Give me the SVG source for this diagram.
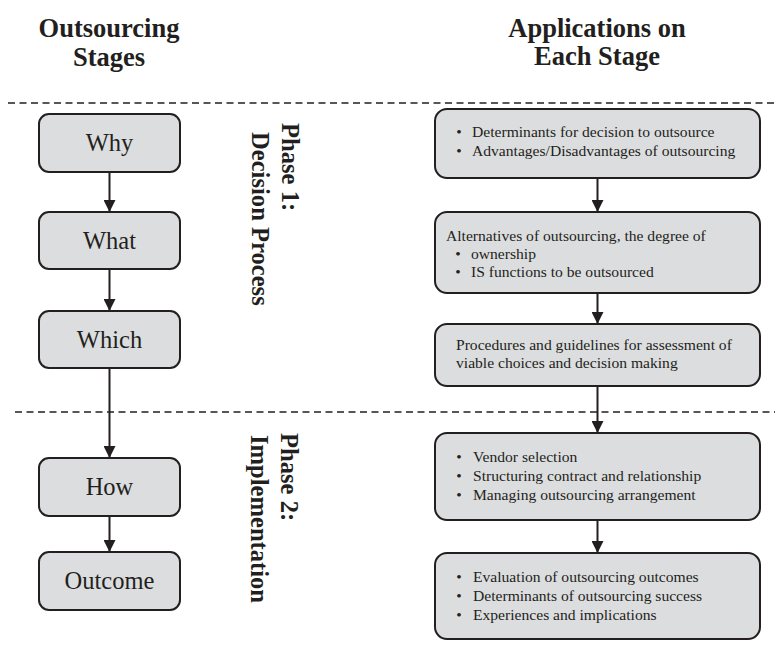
<svg xmlns="http://www.w3.org/2000/svg" width="775" height="648" viewBox="0 0 775 648">
<defs>
<marker id="arr" markerWidth="12" markerHeight="12" viewBox="0 0 12 12" refX="12" refY="6" orient="auto" markerUnits="userSpaceOnUse">
<path d="M0,0 L12,6 L0,12 Z" fill="#231f20"/>
</marker>
<style>
.box{fill:#dcdddf;stroke:#231f20;stroke-width:2}
.stage{font-family:"Liberation Serif",serif;font-size:24.5px;fill:#231f20;text-anchor:middle}
.title{font-family:"Liberation Serif",serif;font-size:26.5px;font-weight:bold;fill:#231f20;text-anchor:middle}
.phase{font-family:"Liberation Serif",serif;font-size:24.6px;font-weight:bold;fill:#231f20}
.app{font-family:"Liberation Serif",serif;font-size:15.6px;fill:#231f20}
.dash{stroke:#231f20;stroke-width:1.3;stroke-dasharray:7 4.5;fill:none}
.conn{stroke:#231f20;stroke-width:2;fill:none;marker-end:url(#arr)}
</style>
</defs>
<rect width="775" height="648" fill="#ffffff"/>

<g id="titles">
<text class="title" x="109" y="37">Outsourcing</text>
<text class="title" x="109" y="66">Stages</text>
<text class="title" x="597" y="37">Applications on</text>
<text class="title" x="597" y="65">Each Stage</text>
</g>

<g id="dividers">
<line class="dash" x1="8" y1="103" x2="775" y2="103"/>
<line class="dash" x1="15" y1="412" x2="775" y2="412"/>
</g>

<g id="phase1">
<text class="phase" transform="translate(282,123) rotate(90)">Phase 1:</text>
<text class="phase" transform="translate(252,132) rotate(90)">Decision Process</text>
</g>
<g id="phase2">
<text class="phase" transform="translate(281,433) rotate(90)">Phase 2:</text>
<text class="phase" transform="translate(251,435) rotate(90)">Implementation</text>
</g>

<g id="connectors">
<line class="conn" x1="109.5" y1="172" x2="109.5" y2="212"/>
<line class="conn" x1="109.5" y1="269" x2="109.5" y2="311"/>
<line class="conn" x1="109.5" y1="368" x2="109.5" y2="458"/>
<line class="conn" x1="109.5" y1="516" x2="109.5" y2="552"/>
<line class="conn" x1="597.5" y1="178" x2="597.5" y2="212"/>
<line class="conn" x1="597.5" y1="293" x2="597.5" y2="324"/>
<line class="conn" x1="597.5" y1="386" x2="597.5" y2="433"/>
<line class="conn" x1="597.5" y1="520" x2="597.5" y2="553"/>
</g>

<g id="why">
<rect class="box" x="39" y="114" width="141" height="58" rx="10"/>
<text class="stage" x="109.5" y="151">Why</text>
</g>
<g id="what">
<rect class="box" x="39" y="212" width="141" height="57" rx="10"/>
<text class="stage" x="109.5" y="249">What</text>
</g>
<g id="which">
<rect class="box" x="39" y="311" width="141" height="57" rx="10"/>
<text class="stage" x="109.5" y="348">Which</text>
</g>
<g id="how">
<rect class="box" x="39" y="458" width="141" height="58" rx="10"/>
<text class="stage" x="109.5" y="495">How</text>
</g>
<g id="outcome">
<rect class="box" x="39" y="552" width="141" height="58" rx="10"/>
<text class="stage" x="109.5" y="589">Outcome</text>
</g>

<g id="app-why">
<rect class="box" x="435" y="109" width="325" height="69" rx="12"/>
<text class="app" x="459" y="137" text-anchor="middle">•</text>
<text class="app" x="472" y="137">Determinants for decision to outsource</text>
<text class="app" x="459" y="156" text-anchor="middle">•</text>
<text class="app" x="472" y="156">Advantages/Disadvantages of outsourcing</text>
</g>
<g id="app-what">
<rect class="box" x="435" y="212" width="325" height="81" rx="12"/>
<text class="app" x="446" y="241">Alternatives of outsourcing, the degree of</text>
<text class="app" x="458" y="259" text-anchor="middle">•</text>
<text class="app" x="471" y="259">ownership</text>
<text class="app" x="458" y="277" text-anchor="middle">•</text>
<text class="app" x="471" y="277">IS functions to be outsourced</text>
</g>
<g id="app-which">
<rect class="box" x="435" y="324" width="325" height="62" rx="12"/>
<text class="app" x="456" y="350">Procedures and guidelines for assessment of</text>
<text class="app" x="456" y="368">viable choices and decision making</text>
</g>
<g id="app-how">
<rect class="box" x="435" y="433" width="325" height="87" rx="12"/>
<text class="app" x="459" y="462" text-anchor="middle">•</text>
<text class="app" x="473" y="462">Vendor selection</text>
<text class="app" x="459" y="481" text-anchor="middle">•</text>
<text class="app" x="473" y="481">Structuring contract and relationship</text>
<text class="app" x="459" y="500" text-anchor="middle">•</text>
<text class="app" x="473" y="500">Managing outsourcing arrangement</text>
</g>
<g id="app-outcome">
<rect class="box" x="435" y="553" width="325" height="86" rx="12"/>
<text class="app" x="459" y="582" text-anchor="middle">•</text>
<text class="app" x="473" y="582">Evaluation of outsourcing outcomes</text>
<text class="app" x="459" y="601" text-anchor="middle">•</text>
<text class="app" x="473" y="601">Determinants of outsourcing success</text>
<text class="app" x="459" y="620" text-anchor="middle">•</text>
<text class="app" x="473" y="620">Experiences and implications</text>
</g>
</svg>
